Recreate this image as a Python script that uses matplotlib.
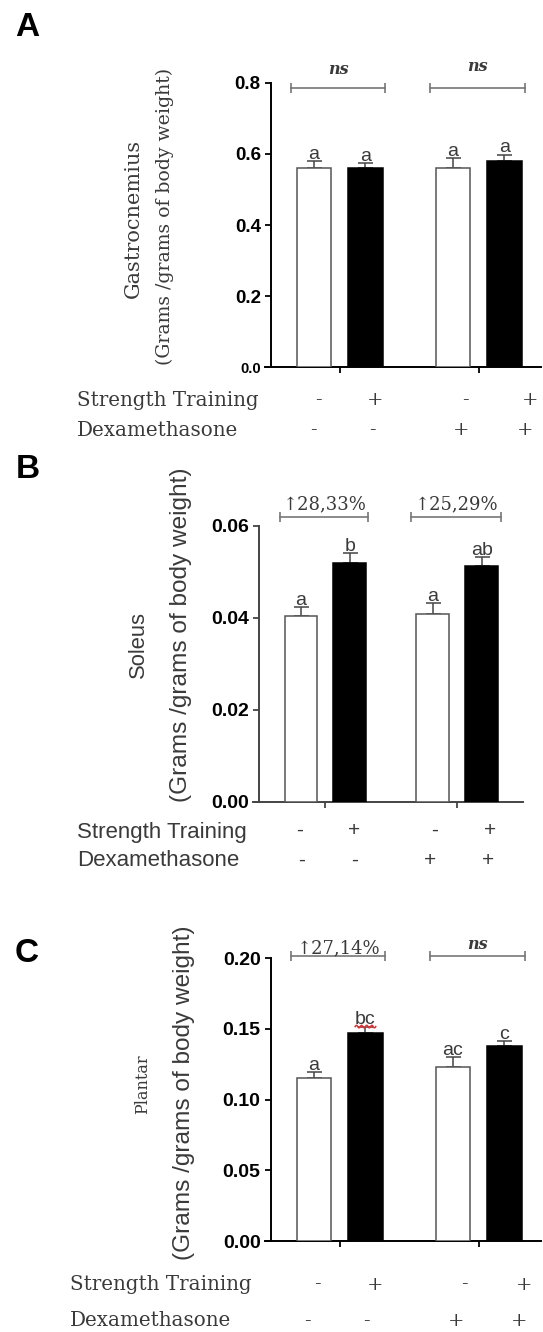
import numpy as np
import matplotlib
matplotlib.use("Agg")
import matplotlib.pyplot as plt

W, H = 543, 1332

# group order: control, trained, dexamethasone, trained + dexamethasone
strength = ["-", "+", "-", "+"]
dexa = ["-", "-", "+", "+"]

gastro_mean = [0.56, 0.56, 0.56, 0.58]
gastro_err = [0.019, 0.015, 0.027, 0.018]
gastro_letters = ["a", "a", "a", "a"]
gastro_marks = ["ns", "ns"]

soleus_mean = [0.0404, 0.0519, 0.0408, 0.0512]
soleus_err = [0.0019, 0.0022, 0.0025, 0.0020]
soleus_letters = ["a", "b", "a", "ab"]
soleus_marks = ["↑28,33%", "↑25,29%"]

plantar_mean = [0.115, 0.147, 0.123, 0.138]
plantar_err = [0.0046, 0.0047, 0.0070, 0.0035]
plantar_letters = ["a", "bc", "ac", "c"]
plantar_marks = ["↑27,14%", "ns"]

xpos = np.array([0, 1, 2.7, 3.7])
bar_w = 0.67
fills = ["white", "black", "white", "black"]
edges = ["#555555", "black", "#555555", "black"]
GREY = "#3a3a3a"
SERIF = ["DejaVu Serif", "DejaVu Sans"]
SANS = ["Liberation Sans", "DejaVu Sans"]

fig = plt.figure(figsize=(W / 100, H / 100), dpi=100)


def axes_px(left, right, top, bottom):
    return fig.add_axes([left / W, 1 - bottom / H, (right - left) / W, (bottom - top) / H])


def text_px(x, y, s, **kw):
    fig.text(x / W, 1 - y / H, s, **kw)


def panel(ax, mean, err, letters, marks, mark_y, mark_off, ymax, yticks, fmt,
          xlim, tick_size, spine_col):
    ax.bar(xpos, mean, width=bar_w, color=fills, edgecolor=edges, linewidth=1.1, zorder=3)
    ax.errorbar(xpos, mean, yerr=[np.zeros(4), err], fmt="none", ecolor="#444444",
                elinewidth=1.1, capsize=5.4, capthick=1.1, zorder=2)
    for xi, m, e, t in zip(xpos, mean, err, letters):
        ax.annotate(t, (xi, m + e), xytext=(0, 1.5), textcoords="offset points",
                    ha="center", va="baseline", fontsize=14, color=GREY, family=SANS)

    # brackets over each pair of groups
    spans = [(xpos[0] - 0.44, xpos[1] + 0.38), (xpos[2] - 0.44, xpos[3] + 0.4)]
    for (x0, x1), s, off in zip(spans, marks, mark_off):
        ax.plot([x0, x1], [mark_y, mark_y], color="#777777", lw=1.2, marker="|",
                ms=7, mew=1.2, clip_on=False)
        if s == "ns":
            kw = dict(fontsize=11.5, style="italic", weight="bold", family=SERIF)
        else:
            kw = dict(fontsize=13, family=SERIF)
        ax.annotate(s, ((x0 + x1) / 2, mark_y), xytext=(0, off), textcoords="offset points",
                    ha="center", va="baseline", color=GREY, annotation_clip=False, **kw)

    ax.set_xlim(*xlim)
    ax.set_ylim(0, ymax)
    ax.set_yticks(yticks)
    ax.set_yticklabels([fmt % v for v in yticks], fontsize=tick_size, weight="bold", family=SANS)
    ax.set_xticks([0.5, 3.2])
    ax.tick_params(axis="x", length=4, width=1.3, labelbottom=False, color=spine_col)
    ax.tick_params(axis="y", length=4.3, width=1.3, pad=3, color=spine_col)
    for side in ["top", "right"]:
        ax.spines[side].set_visible(False)
    for side in ["left", "bottom"]:
        ax.spines[side].set_linewidth(1.4)
        ax.spines[side].set_color(spine_col)
    ax.spines["bottom"].set_bounds(xlim[0] - 0.12, xlim[1])
    ax.patch.set_alpha(0)


def sign_rows(xs_st, y_st, xs_dx, y_dx, family, size):
    for xv, s in zip(xs_st, strength):
        text_px(xv, y_st, s, ha="center", va="center", fontsize=size, color=GREY, family=family)
    for xv, s in zip(xs_dx, dexa):
        text_px(xv, y_dx, s, ha="center", va="center", fontsize=size, color=GREY, family=family)


# A - gastrocnemius
axA = axes_px(271, 541, 82.7, 367.3)
panel(axA, gastro_mean, gastro_err, gastro_letters, gastro_marks, 0.786, [10, 12],
      0.8, [0, 0.2, 0.4, 0.6, 0.8], "%.1f", (-0.831, 4.41), 13.5, "black")
axA.get_yticklabels()[0].set_fontsize(10.5)
text_px(27, 28, "A", ha="center", va="center", fontsize=24, weight="bold", family=SANS)
text_px(133, 218, "Gastrocnemius", rotation=90, ha="center", va="center",
        fontsize=15, color=GREY, family=SERIF)
text_px(165, 216, "(Grams /grams of body weight)", rotation=90, ha="center", va="center",
        fontsize=13.6, color=GREY, family=SERIF)
text_px(76.6, 400, "Strength Training", ha="left", va="center", fontsize=14.3, color=GREY, family=SERIF)
text_px(77, 430, "Dexamethasone", ha="left", va="center", fontsize=14.3, color=GREY, family=SERIF)
sign_rows([318, 375, 465, 530], 400, [313.7, 372.4, 461.1, 525], 430, SERIF, 14)

# B - soleus
axB = axes_px(259.3, 523.3, 526, 802)
panel(axB, soleus_mean, soleus_err, soleus_letters, soleus_marks, 0.0620, [5.5, 5.5],
      0.06, [0, 0.02, 0.04, 0.06], "%.2f", (-0.855, 4.555), 14, "#444444")
text_px(28, 470, "B", ha="center", va="center", fontsize=24, weight="bold", family=SANS)
text_px(138.6, 644, "Soleus", rotation=90, ha="center", va="center",
        fontsize=15.8, color=GREY, family=SANS)
text_px(180.7, 634.5, "(Grams /grams of body weight)", rotation=90, ha="center", va="center",
        fontsize=17.6, color=GREY, family=SANS)
text_px(77, 832.7, "Strength Training", ha="left", va="center", fontsize=16, color=GREY, family=SANS)
text_px(77, 861, "Dexamethasone", ha="left", va="center", fontsize=16, color=GREY, family=SANS)
sign_rows([299.3, 354.3, 434.3, 490], 830.7, [301.7, 354.3, 430, 488.3], 860, SANS, 15)

# C - plantar
axC = axes_px(270.7, 541, 958.3, 1241)
panel(axC, plantar_mean, plantar_err, plantar_letters, plantar_marks, 0.2016, [2, 5],
      0.20, [0, 0.05, 0.10, 0.15, 0.20], "%.2f", (-0.84, 4.41), 14, "black")
# spell-check squiggle under "bc"
sq_x = np.linspace(xpos[1] - 0.2, xpos[1] + 0.2, 60)
sq_y = plantar_mean[1] + plantar_err[1] + 0.0009 * np.sin((sq_x - sq_x[0]) * 2 * np.pi / 0.1)
axC.plot(sq_x, sq_y, color="#e03030", lw=1.1, zorder=5, clip_on=False)
text_px(27, 953, "C", ha="center", va="center", fontsize=24, weight="bold", family=SANS)
text_px(142.5, 1084, "Plantar", rotation=90, ha="center", va="center",
        fontsize=11.5, color=GREY, family=SERIF)
text_px(184, 1093, "(Grams /grams of body weight)", rotation=90, ha="center", va="center",
        fontsize=17.6, color=GREY, family=SANS)
text_px(69.7, 1284.5, "Strength Training", ha="left", va="center", fontsize=14.3, color=GREY, family=SERIF)
text_px(69.7, 1320.7, "Dexamethasone", ha="left", va="center", fontsize=14.3, color=GREY, family=SERIF)
sign_rows([317.5, 374.7, 464.8, 523.7], 1284.5, [307.1, 366, 456.1, 519.2], 1320.7, SERIF, 14)

fig.savefig("out.png", dpi=100)
